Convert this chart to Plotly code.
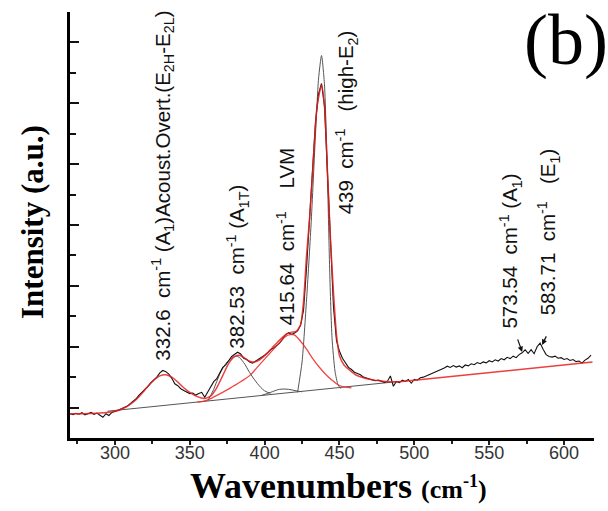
import plotly.graph_objects as go

# ---------------- data ----------------
wavenumber = [270, 272, 274, 276, 278, 280, 282, 284, 286, 288, 290, 292, 294, 296, 298,
              300, 302, 304, 306, 308, 310, 312, 314, 316, 318, 320, 322, 324, 326, 328,
              330, 332, 334, 336, 338, 340, 342, 344, 346, 348, 350, 352, 354, 356, 358,
              360, 362, 364, 366, 368, 370, 372, 374, 376, 378, 380, 382, 384, 386, 388,
              390, 392, 394, 396, 398, 400, 402, 404, 406, 408, 410, 412, 414, 416, 418,
              420, 422, 424, 426, 428, 430, 432, 434, 436, 438, 440, 442, 444, 446, 448,
              450, 452, 454, 456, 458, 460, 462, 464, 466, 468, 470, 472, 474, 476, 478,
              480, 482, 484, 486, 488, 490, 492, 494, 496, 498, 500, 502, 504, 506, 508,
              510, 512, 514, 516, 518, 520, 522, 524, 526, 528, 530, 532, 534, 536, 538,
              540, 542, 544, 546, 548, 550, 552, 554, 556, 558, 560, 562, 564, 566, 568,
              570, 572, 574, 576, 578, 580, 582, 584, 586, 588, 590, 592, 594, 596, 598,
              600, 602, 604, 606, 608, 610, 612, 614, 616, 618]
intensity = [80, 77, 81, 78, 83, 76, 80, 84, 78, 82, 75, 68, 80, 74, 84,
             86, 90, 95, 99, 104, 112, 120, 128, 140, 150, 158, 170, 182, 190, 200,
             214, 222, 218, 210, 196, 178, 172, 162, 156, 150, 146, 148, 141, 146, 150,
             134, 150, 170, 185, 195, 215, 232, 240, 255, 268, 275, 282, 276, 262, 258,
             250, 246, 252, 258, 265, 272, 280, 290, 296, 305, 312, 325, 340, 346, 340,
             345, 352, 370, 420, 560, 720, 880, 1040, 1130, 1165, 1090, 880, 650, 430, 320,
             285, 262, 245, 232, 225, 216, 212, 208, 200, 196, 194, 191, 188, 190, 186,
             183, 186, 204, 170, 186, 182, 190, 186, 192, 180, 193, 190, 198, 200, 204,
             208, 212, 216, 222, 226, 230, 236, 232, 238, 233, 237, 231, 240, 237, 244,
             241, 248, 244, 250, 247, 254, 250, 257, 253, 261, 257, 265, 261, 269, 264,
             274, 280, 290, 278, 290, 277, 300, 312, 292, 274, 268, 266, 269, 262, 264,
             258, 261, 255, 258, 251, 253, 246, 256, 262, 272]

fit_x = [270, 280, 290, 300, 305, 310, 315, 320, 325, 330, 334, 338, 342, 346, 350,
         355, 360, 364, 368, 372, 376, 380, 383, 386, 390, 393, 397, 401, 405, 410,
         414, 418, 421, 424, 426, 428, 430, 432, 435, 438, 440, 442, 444, 446, 448,
         450, 453, 457, 461, 466, 472, 478, 483, 490, 495, 619]
fit_y = [80, 80, 82, 88, 96, 110, 130, 158, 185, 204, 208, 200, 184, 165, 150,
         136, 130, 138, 165, 205, 245, 268, 272, 265, 252, 250, 258, 275, 296, 322,
         340, 348, 350, 372, 450, 600, 720, 872, 1089, 1161, 1089, 872, 651, 477, 340,
         270, 240, 222, 207, 198, 191, 187, 185, 185, 187, 250]

lvm_x = [355, 360, 365, 370, 375, 379, 384, 390, 395, 401, 406, 410, 414, 417, 420,
         424, 428, 432, 437, 441, 445, 449, 453, 458]
lvm_y = [118, 122, 132, 145, 158, 170, 185, 205, 232, 265, 292, 314, 334, 340, 338,
         318, 292, 262, 230, 208, 190, 175, 168, 165]

a1t_x = [362, 366, 370, 375, 379, 382, 386, 390, 395, 400, 404]
a1t_y = [122, 160, 210, 250, 265, 268, 248, 215, 180, 155, 147]

small_x = [398, 404, 410, 416, 421, 425]
small_y = [140, 150, 160, 160, 155, 152]

e2_x = [422, 425, 428, 431, 434, 436, 438, 440, 442, 443.5, 445, 447, 449, 451]
e2_y = [150, 250, 454, 700, 1000, 1180, 1257, 1160, 850, 543, 330, 220, 175, 162]

base_x = [295, 490]
base_y = [88, 186]

peak_labels = [
    "332.6\u00a0\u00a0cm<sup>-1</sup>\u00a0(A<sub>1</sub>)Acoust.Overt.(E<sub>2H</sub>-E<sub>2L</sub>)",
    "382.53\u00a0\u00a0cm<sup>-1</sup>\u00a0(A<sub>1T</sub>)",
    "415.64\u00a0\u00a0cm<sup>-1</sup>\u00a0\u00a0\u00a0\u00a0LVM",
    "439\u00a0\u00a0cm<sup>-1</sup>\u00a0\u00a0\u00a0(high-E<sub>2</sub>)",
    "573.54\u00a0\u00a0cm<sup>-1</sup>\u00a0(A<sub>1</sub>)",
    "583.71\u00a0\u00a0cm<sup>-1</sup>\u00a0\u00a0\u00a0(E<sub>1</sub>)",
]
label_x = [332, 382, 414, 454.7, 564, 589.3]
label_y = [247, 286, 362, 727, 352, 395]

arrow_x = [572, 585.3]
arrow_y = [283, 306]

x_ticks = [300, 350, 400, 450, 500, 550, 600]

# ---------------- figure ----------------
fig = go.Figure()
comp_style = dict(color="#555555", width=1)
fig.add_trace(go.Scatter(x=base_x, y=base_y, mode="lines", line=comp_style))
fig.add_trace(go.Scatter(x=a1t_x, y=a1t_y, mode="lines", line=dict(shape="spline", **comp_style)))
fig.add_trace(go.Scatter(x=small_x, y=small_y, mode="lines", line=dict(shape="spline", **comp_style)))
fig.add_trace(go.Scatter(x=e2_x, y=e2_y, mode="lines", line=dict(shape="spline", smoothing=0.6, **comp_style)))
fig.add_trace(go.Scatter(x=wavenumber, y=intensity, mode="lines",
                         line=dict(color="#111111", width=1.1)))
fig.add_trace(go.Scatter(x=lvm_x, y=lvm_y, mode="lines",
                         line=dict(color="rgba(235,40,40,0.85)", width=1.3, shape="spline")))
fig.add_trace(go.Scatter(x=fit_x, y=fit_y, mode="lines",
                         line=dict(color="rgba(230,30,30,0.85)", width=1.5, shape="spline", smoothing=0.6)))

ann = []
for t, x, y in zip(peak_labels, label_x, label_y):
    ann.append(dict(x=x, y=y, xref="x", yref="y", text=t, textangle=-90, showarrow=False,
                    xanchor="center", yanchor="bottom",
                    font=dict(family="Liberation Sans, Arial", size=20.5, color="#111111")))
for x, y, ax, ay in zip(arrow_x, arrow_y, [-5, 5], [-14, -10]):
    ann.append(dict(x=x, y=y, xref="x", yref="y", ax=ax, ay=ay, text="", showarrow=True,
                    arrowhead=2, arrowsize=0.9, arrowwidth=1.2, arrowcolor="#111111"))
# panel label
ann.append(dict(x=(566 - 70) / 524, y=(438 - 40) / 426, xref="paper", yref="paper",
                text="(b)", showarrow=False, xanchor="center", yanchor="middle",
                font=dict(family="Liberation Serif, Times New Roman", size=72, color="#000000")))
# axis titles
ann.append(dict(x=(32 - 70) / 524, y=(438 - 222) / 426, xref="paper", yref="paper",
                text="<b>Intensity (a.u.)</b>", textangle=-90, showarrow=False,
                xanchor="center", yanchor="middle",
                font=dict(family="Liberation Serif, Times New Roman", size=31, color="#000000")))
ann.append(dict(x=(338 - 70) / 524, y=(438 - 486) / 426, xref="paper", yref="paper",
                text="<b>Wavenumbers <span style='font-size:26px'>(cm<sup>-1</sup>)</span></b>",
                showarrow=False, xanchor="center", yanchor="middle",
                font=dict(family="Liberation Serif, Times New Roman", size=36, color="#000000")))

fig.update_layout(
    width=608, height=511,
    margin=dict(l=70, r=14, t=12, b=73),
    paper_bgcolor="white", plot_bgcolor="white",
    showlegend=False,
    annotations=ann,
    xaxis=dict(range=[270, 620], showgrid=False, zeroline=False,
               showline=True, linecolor="black", linewidth=3,
               tickvals=x_ticks, ticks="outside", ticklen=4, tickwidth=2, tickcolor="#222",
               ticklabelstandoff=-8,
               minor=dict(dtick=25, tick0=275, ticks="outside", ticklen=3, tickwidth=2, tickcolor="#222"),
               tickfont=dict(family="Liberation Sans, Arial", size=18, color="#333333")),
    yaxis=dict(range=[0, 1400], showgrid=False, zeroline=False,
               showline=True, linecolor="black", linewidth=3,
               showticklabels=False, tick0=100, dtick=200,
               ticks="inside", ticklen=9, tickwidth=2, tickcolor="#111",
               minor=dict(tick0=0, dtick=200, ticks="inside", ticklen=6, tickwidth=2, tickcolor="#111")),
)

fig.write_html("out.html")
